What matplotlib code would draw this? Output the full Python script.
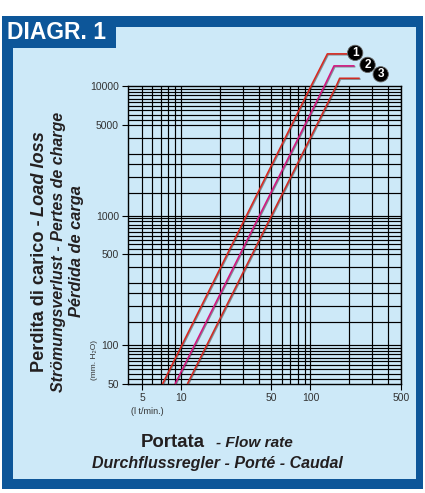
import matplotlib
matplotlib.use('Agg')
from matplotlib import pyplot as plt
from matplotlib.patches import Rectangle
from matplotlib.ticker import NullLocator, FixedLocator, FixedFormatter
from matplotlib import patheffects as pe

# data
flow_ticks = [5, 10, 50, 100, 500]
loss_ticks = [50, 100, 500, 1000, 5000, 10000]
flow_grid = [5, 6, 7, 8, 9, 10, 20, 30, 40, 50, 60, 70, 80, 90, 100, 200, 300, 400, 500]
loss_grid = [55, 60, 65, 70, 75, 80, 85, 90, 95, 100,
             150, 200, 250, 300, 400, 500, 550, 600, 650, 700, 750, 800, 850, 900, 950, 1000,
             1500, 2000, 2500, 3000, 4000, 5000, 5500, 6000, 6500, 7000, 7500, 8000, 8500, 9000, 9500]

curve_names = ['1', '2', '3']
curve_flow = [[7.2, 101, 135, 192], [9.0, 128, 152, 219], [11.2, 158, 168, 240]]
curve_loss = [[50, 10000, 17700, 17700], [50, 10000, 14300, 14300], [50, 10000, 11470, 11470]]
curve_colors = ['#d8281f', '#d3157f', '#cf2a22']
badge_offset = [(8, 1), (13, 1), (21, 4)]

W, H = 425, 493
DARK_BLUE = '#0d5699'
LIGHT_BLUE = '#cde9f8'
TXT = '#231f20'
FONT = ['Liberation Sans Narrow', 'Liberation Sans', 'DejaVu Sans']
plt.rcParams['font.family'] = ['Liberation Sans', 'DejaVu Sans']

fig = plt.figure(figsize=(W / 100, H / 100), dpi=100)
fig.patch.set_facecolor('white')


def px_rect(x0, y0, x1, y1, color):
    """rectangle given in pixel coords (origin top left)"""
    fig.patches.append(Rectangle((x0 / W, 1 - y1 / H), (x1 - x0) / W, (y1 - y0) / H,
                                 transform=fig.transFigure, facecolor=color,
                                 edgecolor='none', zorder=-5))


px_rect(2, 16, 423, 489, DARK_BLUE)
px_rect(13, 27, 416, 479, LIGHT_BLUE)
px_rect(2, 16, 116, 48, DARK_BLUE)
fig.text(7 / W, 1 - 39 / H, 'DIAGR. 1', color='white', fontsize=16.5, weight='bold',
         va='baseline', ha='left')

ax = fig.add_axes([128 / W, 1 - 384 / H, 273 / W, 298 / H])
ax.set_facecolor('none')
ax.set_xscale('log')
ax.set_yscale('log')
ax.set_xlim(3.9, 500)
ax.set_ylim(50, 10000)

for v in flow_grid:
    ax.axvline(v, color='black', lw=0.85, zorder=1)
for v in loss_grid:
    ax.axhline(v, color='black', lw=0.85, zorder=1)

for s in ax.spines.values():
    s.set_color('black')
    s.set_linewidth(1.0)

ax.xaxis.set_major_locator(FixedLocator(flow_ticks))
ax.xaxis.set_major_formatter(FixedFormatter([str(v) for v in flow_ticks]))
ax.yaxis.set_major_locator(FixedLocator(loss_ticks))
ax.yaxis.set_major_formatter(FixedFormatter([str(v) for v in loss_ticks]))
ax.xaxis.set_minor_locator(NullLocator())
ax.yaxis.set_minor_locator(NullLocator())
ax.tick_params(direction='out', length=4, width=0.8, labelsize=7.5, pad=2.5,
               colors='black', labelcolor='#333333')

for i, name in enumerate(curve_names):
    ax.plot(curve_flow[i], curve_loss[i], color=curve_colors[i], lw=1.15, clip_on=False,
            zorder=3, solid_capstyle='butt',
            path_effects=[pe.SimpleLineShadow(offset=(0.6, -0.6), shadow_color='#222222', alpha=0.45),
                          pe.Normal()])
    ax.annotate(name, xy=(curve_flow[i][-1], curve_loss[i][-1]), xytext=badge_offset[i],
                textcoords='offset pixels', ha='center', va='center', color='white',
                fontsize=8.5, weight='bold', annotation_clip=False, zorder=4,
                bbox=dict(boxstyle='circle,pad=0.14', fc='black', ec='#666666', lw=0.6))

fig.text(95 / W, 1 - 360 / H, '(mm. H₂O)', rotation=90, ha='center', va='center',
         fontsize=6, color='#333333')
fig.text(131 / W, 1 - 412 / H, '(l t/min.)', ha='left', va='center',
         fontsize=6.5, color='#333333')

renderer = fig.canvas.get_renderer()


def write_parts(parts, start, end, base, vertical=False, gap=0.25):
    """lay out mixed style text pieces so they span start..end pixels"""
    widths = []
    for s, style, ratio in parts:
        t = fig.text(0, 0, s, fontsize=10 * ratio, style=style, weight='bold', family=FONT)
        widths.append(t.get_window_extent(renderer).width)
        t.remove()
    gap_px = gap * 10 / 72 * 100
    total = sum(widths) + gap_px * (len(parts) - 1)
    k = abs(end - start) / total
    pos = start
    for (s, style, ratio), w in zip(parts, widths):
        if vertical:
            fig.text(base / W, 1 - pos / H, s, rotation=90, rotation_mode='anchor',
                     ha='left', va='baseline', fontsize=10 * ratio * k, style=style,
                     weight='bold', family=FONT, color=TXT)
            pos -= (w + gap_px) * k
        else:
            fig.text(pos / W, 1 - base / H, s, ha='left', va='baseline',
                     fontsize=10 * ratio * k, style=style, weight='bold', family=FONT, color=TXT)
            pos += (w + gap_px) * k


write_parts([('Perdita di carico -', 'normal', 1.0), ('Load loss', 'italic', 1.0)],
            372, 131, 44, vertical=True)
write_parts([('Strömungsverlust - Pertes de charge', 'italic', 1.0)], 392, 112, 63, vertical=True)
write_parts([('Pérdida de carga', 'italic', 1.0)], 317, 185, 81, vertical=True)
write_parts([('Portata', 'normal', 1.05), ('- Flow rate', 'italic', 0.87)], 141, 293, 447, gap=0.6)
write_parts([('Durchflussregler - Porté - Caudal', 'italic', 1.0)], 92, 343, 468)

fig.savefig('out.png', dpi=100)
